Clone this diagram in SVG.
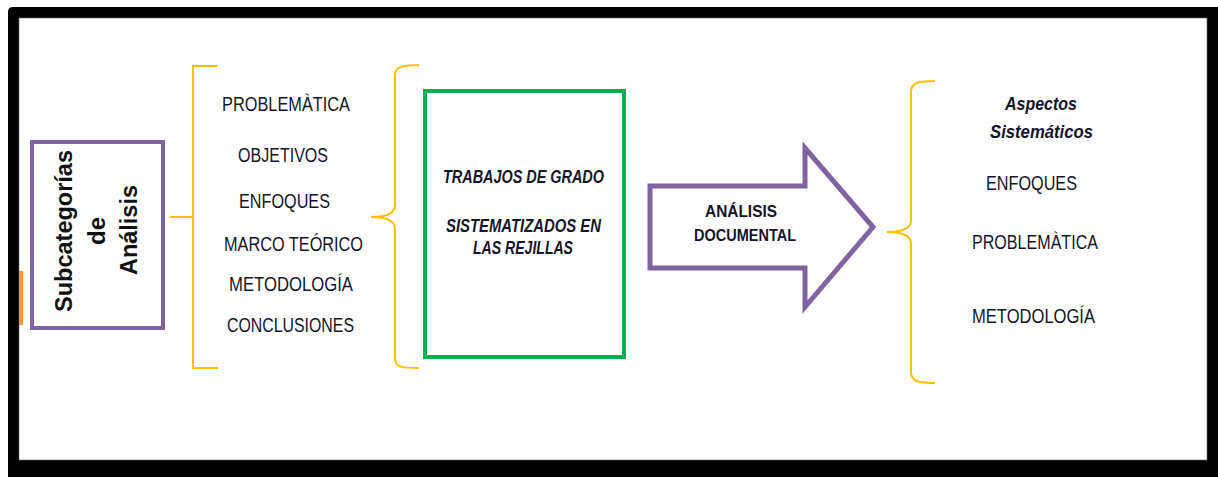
<svg xmlns="http://www.w3.org/2000/svg" width="1218" height="477" viewBox="0 0 1218 477">
  <style>
    .t { font-family: "Liberation Sans", Arial, sans-serif; fill: #15152a; }
    .reg { font-size: 20px; }
    .bi { font-size: 18px; font-weight: bold; font-style: italic; }
    .b { font-size: 17px; font-weight: bold; }
    .vert { font-size: 24px; font-weight: bold; fill: #111; }
    .brace { fill: none; stroke: #FFC000; stroke-width: 2; }
  </style>
  <rect x="0" y="0" width="1218" height="477" fill="#ffffff"/>
  <g id="frame">
    <path d="M13,7 H1218 V477 H8 V12 Q8,7 13,7 Z" fill="#000000"/>
    <rect x="19" y="18" width="1188" height="442" fill="#ffffff" stroke="#666" stroke-width="0.6"/>
    <rect x="19" y="271" width="4" height="54" fill="#F79646"/>
  </g>
  <g id="connectors">
    <path class="brace" d="M218,66 H193 V368 H218 M170,217 H193"/>
    <path class="brace" d="M419,65 C405,65 395,66 395,75 L395,205 C395,214 385,217 371,217 C385,217 395,220 395,229 L395,359 C395,368 405,368 419,368"/>
    <path class="brace" d="M935,81 C920,81 911,82 911,92 L911,220 C911,229 900,232 887,232 C900,232 911,235 911,244 L911,372 C911,382 920,383 935,383"/>
  </g>
  <g id="subcategorias">
    <rect x="32" y="142" width="131" height="186" fill="#ffffff" stroke="#8064A2" stroke-width="4"/>
    <text class="t vert" transform="translate(72,231) rotate(-90)" text-anchor="middle" textLength="162" lengthAdjust="spacingAndGlyphs">Subcategorías</text>
    <text class="t vert" transform="translate(105,231) rotate(-90)" text-anchor="middle">de</text>
    <text class="t vert" transform="translate(137,230) rotate(-90)" text-anchor="middle" textLength="90" lengthAdjust="spacingAndGlyphs">Análisis</text>
  </g>
  <g id="lista-subcategorias">
    <text class="t reg" x="222" y="111" textLength="128" lengthAdjust="spacingAndGlyphs">PROBLEMÀTICA</text>
    <text class="t reg" x="238" y="162" textLength="90" lengthAdjust="spacingAndGlyphs">OBJETIVOS</text>
    <text class="t reg" x="239" y="208" textLength="91" lengthAdjust="spacingAndGlyphs">ENFOQUES</text>
    <text class="t reg" x="224" y="251" textLength="139" lengthAdjust="spacingAndGlyphs">MARCO TEÓRICO</text>
    <text class="t reg" x="229" y="291" textLength="124" lengthAdjust="spacingAndGlyphs">METODOLOGÍA</text>
    <text class="t reg" x="227" y="332" textLength="127" lengthAdjust="spacingAndGlyphs">CONCLUSIONES</text>
  </g>
  <g id="trabajos">
    <rect x="425" y="91" width="199" height="266" fill="#ffffff" stroke="#00B050" stroke-width="4"/>
    <text class="t bi" x="443" y="183" textLength="161" lengthAdjust="spacingAndGlyphs">TRABAJOS DE GRADO</text>
    <text class="t bi" x="446" y="232" textLength="155" lengthAdjust="spacingAndGlyphs">SISTEMATIZADOS EN</text>
    <text class="t bi" x="473" y="254" textLength="100" lengthAdjust="spacingAndGlyphs">LAS REJILLAS</text>
  </g>
  <g id="analisis-documental">
    <polygon points="650,186 805,186 805,148 873,227 805,307 805,268 650,268" fill="#ffffff" stroke="#8064A2" stroke-width="5"/>
    <text class="t b" x="705" y="217" textLength="72" lengthAdjust="spacingAndGlyphs">ANÁLISIS</text>
    <text class="t b" x="694" y="241" textLength="102" lengthAdjust="spacingAndGlyphs">DOCUMENTAL</text>
  </g>
  <g id="aspectos">
    <text class="t bi" x="1005" y="110" textLength="72" lengthAdjust="spacingAndGlyphs">Aspectos</text>
    <text class="t bi" x="990" y="138" textLength="103" lengthAdjust="spacingAndGlyphs">Sistemáticos</text>
    <text class="t reg" x="986" y="190" textLength="91" lengthAdjust="spacingAndGlyphs">ENFOQUES</text>
    <text class="t reg" x="972" y="249" textLength="126" lengthAdjust="spacingAndGlyphs">PROBLEMÀTICA</text>
    <text class="t reg" x="972" y="323" textLength="123" lengthAdjust="spacingAndGlyphs">METODOLOGÍA</text>
  </g>
</svg>
